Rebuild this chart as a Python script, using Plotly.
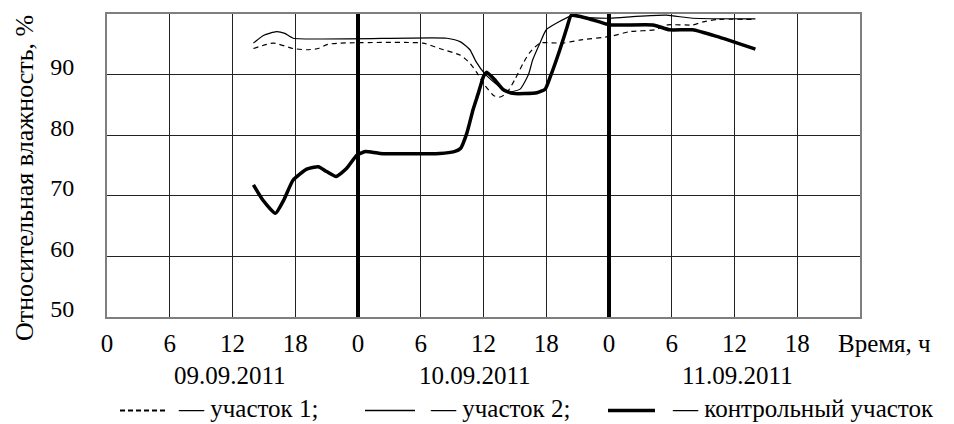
import plotly.graph_objects as go

# ---- data (hours from 00:00 09.09.2011, relative humidity %) ----
h_plot1 = [14.0, 15.9, 17.8, 19.1, 20.2, 21.1, 22.3, 30.2, 31.8, 33.8, 34.7, 35.3, 36.1, 37.0,
           37.6, 38.2, 39.0, 39.8, 40.4, 41.4, 43.6, 45.2, 48.1, 50.0, 52.4, 53.6, 56.0, 57.0,
           58.3, 62.0]
rh_plot1 = [94.3, 95.2, 94.3, 94.1, 94.3, 95.0, 95.2, 95.2, 94.3, 93.2, 91.9, 90.5, 88.3, 86.5,
            86.3, 86.9, 89.2, 91.9, 93.6, 95.2, 95.2, 95.7, 96.3, 97.1, 97.4, 98.2, 98.2, 98.7,
            99.1, 99.1]

h_plot2 = [14.0, 15.0, 16.2, 17.0, 17.8, 32.5, 33.8, 34.7, 35.3, 36.1, 37.1, 38.3, 39.5, 40.3,
           40.7, 41.4, 42.0, 43.0, 44.3, 45.9, 48.1, 50.6, 53.5, 56.0, 62.0]
rh_plot2 = [95.2, 96.5, 97.1, 96.8, 96.0, 96.0, 95.4, 94.1, 92.1, 90.2, 88.6, 87.1, 87.6, 90.0,
            92.4, 95.2, 97.4, 98.5, 99.6, 99.4, 99.3, 99.6, 99.8, 99.3, 99.2]

h_control = [14.0, 14.9, 16.1, 16.9, 17.8, 19.1, 20.2, 21.0, 21.9, 22.9, 23.9, 24.7, 26.1, 31.8,
             33.2, 33.8, 34.4, 35.0, 35.5, 36.0, 36.3, 37.1, 37.9, 38.8, 41.1, 41.9, 42.4, 43.3,
             44.0, 44.4, 45.9, 47.1, 48.1, 52.2, 53.8, 56.0, 58.3, 62.0]
rh_control = [71.8, 69.3, 67.1, 69.3, 72.6, 74.4, 74.8, 74.0, 73.2, 74.5, 76.7, 77.3, 77.0, 77.0,
              77.3, 77.8, 80.3, 84.2, 86.9, 89.7, 90.4, 89.1, 87.5, 86.9, 87.0, 87.6, 89.7, 94.1,
              97.9, 99.8, 99.3, 98.7, 98.2, 98.2, 97.4, 97.4, 96.3, 94.2]

x_tickvals = [0, 6, 12, 18, 24, 30, 36, 42, 48, 54, 60, 66]
x_ticktext = ["0", "6", "12", "18", "0", "6", "12", "18", "0", "6", "12", "18"]
y_tickvals = [50, 60, 70, 80, 90]
y_ticktext = ["50", "60", "70", "80", "90"]
day_bounds = [24, 48]
date_labels = ["09.09.2011", "10.09.2011", "11.09.2011"]
date_label_pos = [11.8, 35.2, 60.3]
legend_names = ["— участок 1;", "— участок 2;", "— контрольный участок"]

# ---- layout geometry (pixels) ----
W, H = 954, 424
L, R, T, B = 107, 94, 14, 107
PW, PH = W - L - R, H - T - B
FONT = "Liberation Serif"
FS = 25


def px(xp):
    return (xp - L) / PW


def py(yp):
    return (H - B - yp) / PH


def tfont(size):
    return dict(family=FONT, size=size, color="black")


def serif(t):
    return '<span style="font-family:Liberation Serif,Times New Roman,serif">' + t + "</span>"


fig = go.Figure()
fig.add_trace(go.Scatter(x=h_plot1, y=rh_plot1, mode="lines", name=legend_names[0],
                         line=dict(color="black", width=1.2, dash="5px,4px", shape="spline",
                                   smoothing=0.5)))
fig.add_trace(go.Scatter(x=h_plot2, y=rh_plot2, mode="lines", name=legend_names[1],
                         line=dict(color="black", width=1.2, shape="spline", smoothing=0.5)))
fig.add_trace(go.Scatter(x=h_control, y=rh_control, mode="lines", name=legend_names[2],
                         line=dict(color="black", width=3.5, shape="spline", smoothing=0.5)))

for d in day_bounds:
    fig.add_shape(type="line", xref="x", yref="paper", x0=d, x1=d, y0=0, y1=1,
                  line=dict(color="black", width=4), layer="above")

fig.add_annotation(text=serif("Относительная влажность, %"), textangle=-90, xref="paper",
                   yref="paper", x=px(24), y=py(178), xanchor="center", yanchor="middle",
                   showarrow=False, font=tfont(26))
for lab, pos in zip(date_labels, date_label_pos):
    fig.add_annotation(text=serif(lab), xref="x", yref="paper", x=pos, y=py(375),
                       xanchor="center", yanchor="middle", showarrow=False, font=tfont(FS))
fig.add_annotation(text=serif("Время, ч"), xref="paper", yref="paper", x=px(836), y=py(343),
                   xanchor="left", yanchor="middle", showarrow=False, font=tfont(FS))

# legend samples + texts
leg_samples = [(120, 168, 2.2, "5px,3px"), (365, 415, 1.3, "solid"), (608, 655, 3.5, "solid")]
leg_text_x = [176, 428, 670]
for (x0, x1, w, dsh), tx, name in zip(leg_samples, leg_text_x, legend_names):
    fig.add_shape(type="line", xref="paper", yref="paper", x0=px(x0), x1=px(x1),
                  y0=py(410.5), y1=py(410.5), line=dict(color="black", width=w, dash=dsh))
    fig.add_annotation(text=serif(name), xref="paper", yref="paper", x=px(tx), y=py(408),
                       xanchor="left", yanchor="middle", showarrow=False, font=tfont(FS))

fig.update_layout(
    width=W, height=H,
    margin=dict(l=L, r=R, t=T, b=B, pad=0),
    paper_bgcolor="white", plot_bgcolor="white",
    showlegend=False,
    font=tfont(FS),
)
fig.update_xaxes(range=[0, 72], tickvals=x_tickvals, ticktext=[serif(t) for t in x_ticktext],
                 showgrid=True, gridcolor="#222222", gridwidth=1, showline=True,
                 linecolor="#7f7f7f", linewidth=2, mirror=True, zeroline=False, ticks="",
                 ticklabelstandoff=3, tickfont=tfont(FS))
fig.update_yaxes(range=[50, 100], tickvals=y_tickvals, ticktext=[serif(t) for t in y_ticktext],
                 showgrid=True, gridcolor="#222222", gridwidth=1, showline=True,
                 linecolor="#7f7f7f", linewidth=2, mirror=True, zeroline=False, ticks="",
                 ticklabelstandoff=26, ticklabelshift=-8, tickfont=tfont(24))

fig.write_html("out.html")
